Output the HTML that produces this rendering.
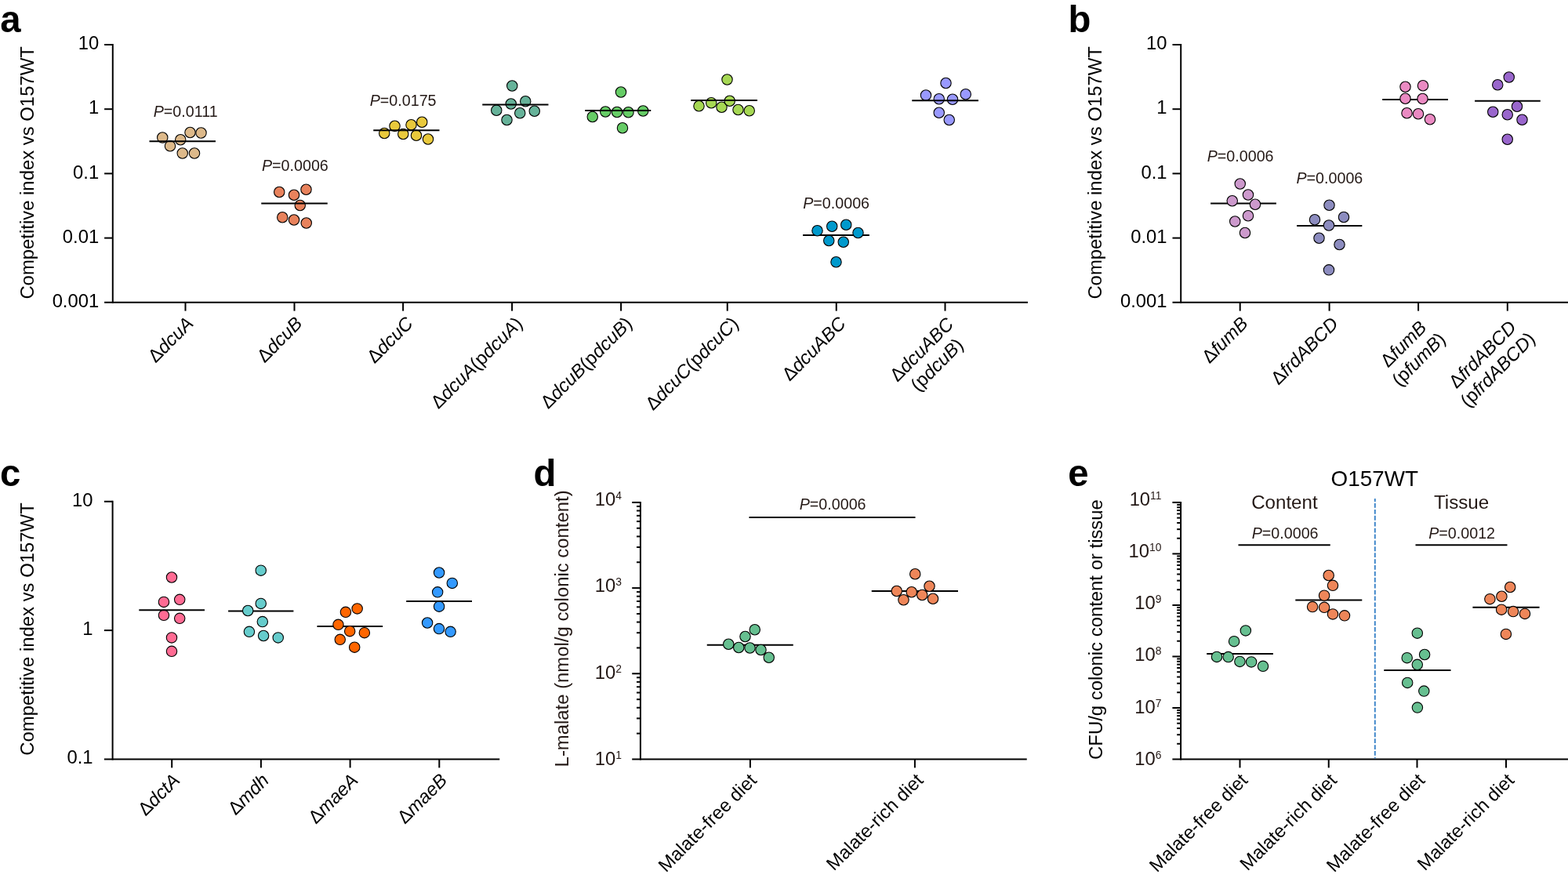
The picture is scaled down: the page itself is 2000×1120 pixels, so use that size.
<!DOCTYPE html>
<html lang="en">
<head>
<meta charset="utf-8">
<title>Competitive index figure</title>
<style>
html,body{margin:0;padding:0;background:#fff;}
body{width:2000px;height:1120px;overflow:hidden;}
svg{display:block;font-family:"Liberation Sans",sans-serif;}
</style>
</head>
<body>
<svg width="2000" height="1120" viewBox="0 0 2000 1120">
<rect x="0" y="0" width="2000" height="1120" fill="#ffffff"/>
<text x="0.2" y="41" font-size="47.3" font-weight="bold" fill="#000">a</text>
<text transform="translate(43,220.4) rotate(-90)" font-size="23.88" text-anchor="middle" fill="#000">Competitive index vs O157WT</text>
<line x1="143.8" y1="56" x2="143.8" y2="386.75" stroke="#000" stroke-width="2"/>
<line x1="133.1" y1="385.75" x2="1311" y2="385.75" stroke="#000" stroke-width="2"/>
<line x1="133.1" y1="57" x2="143.8" y2="57" stroke="#000" stroke-width="2"/>
<line x1="133.1" y1="139.2" x2="143.8" y2="139.2" stroke="#000" stroke-width="2"/>
<line x1="133.1" y1="221.4" x2="143.8" y2="221.4" stroke="#000" stroke-width="2"/>
<line x1="133.1" y1="303.6" x2="143.8" y2="303.6" stroke="#000" stroke-width="2"/>
<line x1="236.5" y1="385.75" x2="236.5" y2="396.65" stroke="#000" stroke-width="2"/>
<line x1="375.5" y1="385.75" x2="375.5" y2="396.65" stroke="#000" stroke-width="2"/>
<line x1="514.1" y1="385.75" x2="514.1" y2="396.65" stroke="#000" stroke-width="2"/>
<line x1="653.1" y1="385.75" x2="653.1" y2="396.65" stroke="#000" stroke-width="2"/>
<line x1="792.1" y1="385.75" x2="792.1" y2="396.65" stroke="#000" stroke-width="2"/>
<line x1="927.75" y1="385.75" x2="927.75" y2="396.65" stroke="#000" stroke-width="2"/>
<line x1="1066.75" y1="385.75" x2="1066.75" y2="396.65" stroke="#000" stroke-width="2"/>
<line x1="1205.5" y1="385.75" x2="1205.5" y2="396.65" stroke="#000" stroke-width="2"/>
<text x="126.2" y="63.2" font-size="23.8" text-anchor="end" fill="#000">10</text>
<text x="126.2" y="145.4" font-size="23.8" text-anchor="end" fill="#000">1</text>
<text x="126.2" y="227.6" font-size="23.8" text-anchor="end" fill="#000">0.1</text>
<text x="126.2" y="309.8" font-size="23.8" text-anchor="end" fill="#000">0.01</text>
<text x="126.2" y="391.95" font-size="23.8" text-anchor="end" fill="#000">0.001</text>
<circle cx="207.25" cy="175.5" r="6.7" fill="#DDB98A" stroke="#000" stroke-width="1.1"/>
<circle cx="217" cy="186.25" r="6.7" fill="#DDB98A" stroke="#000" stroke-width="1.1"/>
<circle cx="230.25" cy="178.25" r="6.7" fill="#DDB98A" stroke="#000" stroke-width="1.1"/>
<circle cx="232.75" cy="195.5" r="6.7" fill="#DDB98A" stroke="#000" stroke-width="1.1"/>
<circle cx="242.5" cy="169" r="6.7" fill="#DDB98A" stroke="#000" stroke-width="1.1"/>
<circle cx="248" cy="195.5" r="6.7" fill="#DDB98A" stroke="#000" stroke-width="1.1"/>
<circle cx="256.5" cy="169.5" r="6.7" fill="#DDB98A" stroke="#000" stroke-width="1.1"/>
<line x1="190.5" y1="180.3" x2="275" y2="180.3" stroke="#000" stroke-width="2"/>
<text x="195.7" y="149.25" font-size="19.7" text-anchor="start" fill="#231815"><tspan font-style="italic">P</tspan>=0.0111</text>
<circle cx="356.25" cy="245" r="6.7" fill="#E8825C" stroke="#000" stroke-width="1.1"/>
<circle cx="375" cy="248.75" r="6.7" fill="#E8825C" stroke="#000" stroke-width="1.1"/>
<circle cx="390.5" cy="241.75" r="6.7" fill="#E8825C" stroke="#000" stroke-width="1.1"/>
<circle cx="382.75" cy="262" r="6.7" fill="#E8825C" stroke="#000" stroke-width="1.1"/>
<circle cx="360.25" cy="277.25" r="6.7" fill="#E8825C" stroke="#000" stroke-width="1.1"/>
<circle cx="375" cy="280.5" r="6.7" fill="#E8825C" stroke="#000" stroke-width="1.1"/>
<circle cx="390.75" cy="284.5" r="6.7" fill="#E8825C" stroke="#000" stroke-width="1.1"/>
<line x1="333.25" y1="259.5" x2="417.75" y2="259.5" stroke="#000" stroke-width="2"/>
<text x="333.95" y="218.25" font-size="19.7" text-anchor="start" fill="#231815"><tspan font-style="italic">P</tspan>=0.0006</text>
<circle cx="490.25" cy="170" r="6.7" fill="#E9C93C" stroke="#000" stroke-width="1.1"/>
<circle cx="503.5" cy="160.75" r="6.7" fill="#E9C93C" stroke="#000" stroke-width="1.1"/>
<circle cx="514.25" cy="171" r="6.7" fill="#E9C93C" stroke="#000" stroke-width="1.1"/>
<circle cx="524.5" cy="159.25" r="6.7" fill="#E9C93C" stroke="#000" stroke-width="1.1"/>
<circle cx="531" cy="172.75" r="6.7" fill="#E9C93C" stroke="#000" stroke-width="1.1"/>
<circle cx="538.25" cy="155.75" r="6.7" fill="#E9C93C" stroke="#000" stroke-width="1.1"/>
<circle cx="546" cy="177.5" r="6.7" fill="#E9C93C" stroke="#000" stroke-width="1.1"/>
<line x1="476.25" y1="166.3" x2="560.5" y2="166.3" stroke="#000" stroke-width="2"/>
<text x="471.7" y="134.5" font-size="19.7" text-anchor="start" fill="#231815"><tspan font-style="italic">P</tspan>=0.0175</text>
<circle cx="653.25" cy="109.5" r="6.7" fill="#66B299" stroke="#000" stroke-width="1.1"/>
<circle cx="651.75" cy="132.5" r="6.7" fill="#66B299" stroke="#000" stroke-width="1.1"/>
<circle cx="670.25" cy="129.25" r="6.7" fill="#66B299" stroke="#000" stroke-width="1.1"/>
<circle cx="633.25" cy="140.75" r="6.7" fill="#66B299" stroke="#000" stroke-width="1.1"/>
<circle cx="663.25" cy="144.25" r="6.7" fill="#66B299" stroke="#000" stroke-width="1.1"/>
<circle cx="681.75" cy="141.75" r="6.7" fill="#66B299" stroke="#000" stroke-width="1.1"/>
<circle cx="646.5" cy="153" r="6.7" fill="#66B299" stroke="#000" stroke-width="1.1"/>
<line x1="615.25" y1="133.5" x2="699.5" y2="133.5" stroke="#000" stroke-width="2"/>
<circle cx="792" cy="117.5" r="6.7" fill="#66CC66" stroke="#000" stroke-width="1.1"/>
<circle cx="755.75" cy="149" r="6.7" fill="#66CC66" stroke="#000" stroke-width="1.1"/>
<circle cx="772.25" cy="142.5" r="6.7" fill="#66CC66" stroke="#000" stroke-width="1.1"/>
<circle cx="787" cy="143" r="6.7" fill="#66CC66" stroke="#000" stroke-width="1.1"/>
<circle cx="801.5" cy="143.25" r="6.7" fill="#66CC66" stroke="#000" stroke-width="1.1"/>
<circle cx="820.25" cy="141.5" r="6.7" fill="#66CC66" stroke="#000" stroke-width="1.1"/>
<circle cx="794" cy="163.25" r="6.7" fill="#66CC66" stroke="#000" stroke-width="1.1"/>
<line x1="746.25" y1="141" x2="830.25" y2="141" stroke="#000" stroke-width="2"/>
<circle cx="927.5" cy="101.5" r="6.7" fill="#A6D854" stroke="#000" stroke-width="1.1"/>
<circle cx="891.5" cy="135.25" r="6.7" fill="#A6D854" stroke="#000" stroke-width="1.1"/>
<circle cx="907.25" cy="131.25" r="6.7" fill="#A6D854" stroke="#000" stroke-width="1.1"/>
<circle cx="920.5" cy="136.75" r="6.7" fill="#A6D854" stroke="#000" stroke-width="1.1"/>
<circle cx="930.75" cy="128.75" r="6.7" fill="#A6D854" stroke="#000" stroke-width="1.1"/>
<circle cx="941.5" cy="140" r="6.7" fill="#A6D854" stroke="#000" stroke-width="1.1"/>
<circle cx="955.75" cy="141.25" r="6.7" fill="#A6D854" stroke="#000" stroke-width="1.1"/>
<line x1="881.25" y1="128" x2="966" y2="128" stroke="#000" stroke-width="2"/>
<line x1="1024.1" y1="299.9" x2="1108.9" y2="299.9" stroke="#000" stroke-width="2"/>
<circle cx="1042.5" cy="294.25" r="6.7" fill="#0099CC" stroke="#000" stroke-width="1.1"/>
<circle cx="1061.25" cy="288.75" r="6.7" fill="#0099CC" stroke="#000" stroke-width="1.1"/>
<circle cx="1079.25" cy="286.75" r="6.7" fill="#0099CC" stroke="#000" stroke-width="1.1"/>
<circle cx="1094.5" cy="297" r="6.7" fill="#0099CC" stroke="#000" stroke-width="1.1"/>
<circle cx="1057.25" cy="307" r="6.7" fill="#0099CC" stroke="#000" stroke-width="1.1"/>
<circle cx="1075.75" cy="308.75" r="6.7" fill="#0099CC" stroke="#000" stroke-width="1.1"/>
<circle cx="1066.5" cy="334.25" r="6.7" fill="#0099CC" stroke="#000" stroke-width="1.1"/>
<text x="1024.2" y="265.5" font-size="19.7" text-anchor="start" fill="#231815"><tspan font-style="italic">P</tspan>=0.0006</text>
<circle cx="1206.5" cy="106" r="6.7" fill="#9999FF" stroke="#000" stroke-width="1.1"/>
<circle cx="1181" cy="121.5" r="6.7" fill="#9999FF" stroke="#000" stroke-width="1.1"/>
<circle cx="1197.75" cy="126.25" r="6.7" fill="#9999FF" stroke="#000" stroke-width="1.1"/>
<circle cx="1215" cy="126.75" r="6.7" fill="#9999FF" stroke="#000" stroke-width="1.1"/>
<circle cx="1231.75" cy="120.25" r="6.7" fill="#9999FF" stroke="#000" stroke-width="1.1"/>
<circle cx="1197.75" cy="143.75" r="6.7" fill="#9999FF" stroke="#000" stroke-width="1.1"/>
<circle cx="1210.75" cy="153" r="6.7" fill="#9999FF" stroke="#000" stroke-width="1.1"/>
<line x1="1163.25" y1="128.3" x2="1248" y2="128.3" stroke="#000" stroke-width="2"/>
<text transform="translate(248,414.05) rotate(-45)" font-size="23.8" text-anchor="end" fill="#000">Δ<tspan font-style="italic">dcuA</tspan></text>
<text transform="translate(387,414.05) rotate(-45)" font-size="23.8" text-anchor="end" fill="#000">Δ<tspan font-style="italic">dcuB</tspan></text>
<text transform="translate(528.2,414.05) rotate(-45)" font-size="23.8" text-anchor="end" fill="#000">Δ<tspan font-style="italic">dcuC</tspan></text>
<text transform="translate(667.8,414.05) rotate(-45)" font-size="23.8" text-anchor="end" fill="#000">Δ<tspan font-style="italic">dcuA</tspan>(p<tspan font-style="italic">dcuA</tspan>)</text>
<text transform="translate(807.7,414.05) rotate(-45)" font-size="23.8" text-anchor="end" fill="#000">Δ<tspan font-style="italic">dcuB</tspan>(p<tspan font-style="italic">dcuB</tspan>)</text>
<text transform="translate(943.35,414.05) rotate(-45)" font-size="23.8" text-anchor="end" fill="#000">Δ<tspan font-style="italic">dcuC</tspan>(p<tspan font-style="italic">dcuC</tspan>)</text>
<text transform="translate(1080.15,414.05) rotate(-45)" font-size="23.8" text-anchor="end" fill="#000">Δ<tspan font-style="italic">dcuABC</tspan></text>
<g transform="translate(1181.2,451.5) rotate(-45)" font-size="23.8" text-anchor="middle" fill="#000">
<text x="0" y="0">Δ<tspan font-style="italic">dcuABC</tspan></text>
<text x="0" y="27.5">(p<tspan font-style="italic">dcuB</tspan>)</text>
</g>
<text x="1362.5" y="41" font-size="47.3" font-weight="bold" fill="#000">b</text>
<text transform="translate(1405,220.4) rotate(-90)" font-size="23.88" text-anchor="middle" fill="#000">Competitive index vs O157WT</text>
<line x1="1506.2" y1="56" x2="1506.2" y2="386.75" stroke="#000" stroke-width="2"/>
<line x1="1495.5" y1="385.75" x2="2000" y2="385.75" stroke="#000" stroke-width="2"/>
<line x1="1495.5" y1="57" x2="1506.2" y2="57" stroke="#000" stroke-width="2"/>
<line x1="1495.5" y1="139.2" x2="1506.2" y2="139.2" stroke="#000" stroke-width="2"/>
<line x1="1495.5" y1="221.4" x2="1506.2" y2="221.4" stroke="#000" stroke-width="2"/>
<line x1="1495.5" y1="303.6" x2="1506.2" y2="303.6" stroke="#000" stroke-width="2"/>
<line x1="1581.7" y1="385.75" x2="1581.7" y2="396.65" stroke="#000" stroke-width="2"/>
<line x1="1695.6" y1="385.75" x2="1695.6" y2="396.65" stroke="#000" stroke-width="2"/>
<line x1="1809.1" y1="385.75" x2="1809.1" y2="396.65" stroke="#000" stroke-width="2"/>
<line x1="1922.8" y1="385.75" x2="1922.8" y2="396.65" stroke="#000" stroke-width="2"/>
<text x="1488.5" y="63.2" font-size="23.8" text-anchor="end" fill="#000">10</text>
<text x="1488.5" y="145.4" font-size="23.8" text-anchor="end" fill="#000">1</text>
<text x="1488.5" y="227.6" font-size="23.8" text-anchor="end" fill="#000">0.1</text>
<text x="1488.5" y="309.8" font-size="23.8" text-anchor="end" fill="#000">0.01</text>
<text x="1488.5" y="391.95" font-size="23.8" text-anchor="end" fill="#000">0.001</text>
<line x1="1544.1" y1="259.6" x2="1627.9" y2="259.6" stroke="#000" stroke-width="2"/>
<circle cx="1581.75" cy="234.5" r="6.7" fill="#CC99CC" stroke="#000" stroke-width="1.1"/>
<circle cx="1592" cy="248.5" r="6.7" fill="#CC99CC" stroke="#000" stroke-width="1.1"/>
<circle cx="1571.75" cy="256.25" r="6.7" fill="#CC99CC" stroke="#000" stroke-width="1.1"/>
<circle cx="1601" cy="260.75" r="6.7" fill="#CC99CC" stroke="#000" stroke-width="1.1"/>
<circle cx="1592" cy="275.25" r="6.7" fill="#CC99CC" stroke="#000" stroke-width="1.1"/>
<circle cx="1575.25" cy="282.5" r="6.7" fill="#CC99CC" stroke="#000" stroke-width="1.1"/>
<circle cx="1588" cy="297" r="6.7" fill="#CC99CC" stroke="#000" stroke-width="1.1"/>
<text x="1539.7" y="206.25" font-size="19.7" text-anchor="start" fill="#231815"><tspan font-style="italic">P</tspan>=0.0006</text>
<line x1="1654.1" y1="288" x2="1737.35" y2="288" stroke="#000" stroke-width="2"/>
<circle cx="1695.5" cy="261.75" r="6.7" fill="#8C8CBF" stroke="#000" stroke-width="1.1"/>
<circle cx="1677" cy="280.25" r="6.7" fill="#8C8CBF" stroke="#000" stroke-width="1.1"/>
<circle cx="1714" cy="277" r="6.7" fill="#8C8CBF" stroke="#000" stroke-width="1.1"/>
<circle cx="1695" cy="287.5" r="6.7" fill="#8C8CBF" stroke="#000" stroke-width="1.1"/>
<circle cx="1682.5" cy="303.75" r="6.7" fill="#8C8CBF" stroke="#000" stroke-width="1.1"/>
<circle cx="1708.5" cy="312" r="6.7" fill="#8C8CBF" stroke="#000" stroke-width="1.1"/>
<circle cx="1695" cy="344.3" r="6.7" fill="#8C8CBF" stroke="#000" stroke-width="1.1"/>
<text x="1653.45" y="233.75" font-size="19.7" text-anchor="start" fill="#231815"><tspan font-style="italic">P</tspan>=0.0006</text>
<line x1="1763.2" y1="126.9" x2="1847" y2="126.9" stroke="#000" stroke-width="2"/>
<circle cx="1792.5" cy="110.75" r="6.7" fill="#EA8AC2" stroke="#000" stroke-width="1.1"/>
<circle cx="1815" cy="109.25" r="6.7" fill="#EA8AC2" stroke="#000" stroke-width="1.1"/>
<circle cx="1792.5" cy="125.75" r="6.7" fill="#EA8AC2" stroke="#000" stroke-width="1.1"/>
<circle cx="1814.5" cy="126" r="6.7" fill="#EA8AC2" stroke="#000" stroke-width="1.1"/>
<circle cx="1794.5" cy="144.25" r="6.7" fill="#EA8AC2" stroke="#000" stroke-width="1.1"/>
<circle cx="1809" cy="145.25" r="6.7" fill="#EA8AC2" stroke="#000" stroke-width="1.1"/>
<circle cx="1824" cy="152.25" r="6.7" fill="#EA8AC2" stroke="#000" stroke-width="1.1"/>
<line x1="1881.1" y1="128.85" x2="1964.8" y2="128.85" stroke="#000" stroke-width="2"/>
<circle cx="1924.75" cy="98.5" r="6.7" fill="#9966CC" stroke="#000" stroke-width="1.1"/>
<circle cx="1910.25" cy="108.25" r="6.7" fill="#9966CC" stroke="#000" stroke-width="1.1"/>
<circle cx="1935" cy="135.75" r="6.7" fill="#9966CC" stroke="#000" stroke-width="1.1"/>
<circle cx="1904.25" cy="142.75" r="6.7" fill="#9966CC" stroke="#000" stroke-width="1.1"/>
<circle cx="1922.75" cy="146.25" r="6.7" fill="#9966CC" stroke="#000" stroke-width="1.1"/>
<circle cx="1941.5" cy="152.75" r="6.7" fill="#9966CC" stroke="#000" stroke-width="1.1"/>
<circle cx="1922.75" cy="177.75" r="6.7" fill="#9966CC" stroke="#000" stroke-width="1.1"/>
<text transform="translate(1593.2,414.05) rotate(-45)" font-size="23.8" text-anchor="end" fill="#000">Δ<tspan font-style="italic">fumB</tspan></text>
<text transform="translate(1708.4,414.35) rotate(-45)" font-size="23.8" text-anchor="end" fill="#000">Δ<tspan font-style="italic">frdABCD</tspan></text>
<g transform="translate(1795.75,444.5) rotate(-45)" font-size="23.8" text-anchor="middle" fill="#000">
<text x="0" y="0">Δ<tspan font-style="italic">fumB</tspan></text>
<text x="0" y="27.5">(p<tspan font-style="italic">fumB</tspan>)</text>
</g>
<g transform="translate(1896.5,457.75) rotate(-45)" font-size="23.8" text-anchor="middle" fill="#000">
<text x="0" y="0">Δ<tspan font-style="italic">frdABCD</tspan></text>
<text x="0" y="27.5">(p<tspan font-style="italic">frdABCD</tspan>)</text>
</g>
<text x="0" y="619.85" font-size="47.3" font-weight="bold" fill="#000">c</text>
<text transform="translate(43,802.5) rotate(-90)" font-size="23.88" text-anchor="middle" fill="#000">Competitive index vs O157WT</text>
<line x1="143.6" y1="638.75" x2="143.6" y2="969.5" stroke="#000" stroke-width="2"/>
<line x1="132.9" y1="968.5" x2="637.25" y2="968.5" stroke="#000" stroke-width="2"/>
<line x1="132.9" y1="639.75" x2="143.6" y2="639.75" stroke="#000" stroke-width="2"/>
<line x1="132.9" y1="804.1" x2="143.6" y2="804.1" stroke="#000" stroke-width="2"/>
<line x1="219.2" y1="968.5" x2="219.2" y2="979.4" stroke="#000" stroke-width="2"/>
<line x1="332.9" y1="968.5" x2="332.9" y2="979.4" stroke="#000" stroke-width="2"/>
<line x1="446.6" y1="968.5" x2="446.6" y2="979.4" stroke="#000" stroke-width="2"/>
<line x1="560.3" y1="968.5" x2="560.3" y2="979.4" stroke="#000" stroke-width="2"/>
<text x="118.5" y="645.95" font-size="23.8" text-anchor="end" fill="#000">10</text>
<text x="118.5" y="810.2" font-size="23.8" text-anchor="end" fill="#000">1</text>
<text x="118.5" y="974.45" font-size="23.8" text-anchor="end" fill="#000">0.1</text>
<circle cx="219" cy="736.5" r="6.7" fill="#FF6B93" stroke="#000" stroke-width="1.1"/>
<circle cx="208.95" cy="767.9" r="6.7" fill="#FF6B93" stroke="#000" stroke-width="1.1"/>
<circle cx="229.2" cy="764.8" r="6.7" fill="#FF6B93" stroke="#000" stroke-width="1.1"/>
<circle cx="208.95" cy="784.8" r="6.7" fill="#FF6B93" stroke="#000" stroke-width="1.1"/>
<circle cx="229.2" cy="788.8" r="6.7" fill="#FF6B93" stroke="#000" stroke-width="1.1"/>
<circle cx="219" cy="813.4" r="6.7" fill="#FF6B93" stroke="#000" stroke-width="1.1"/>
<circle cx="219" cy="830.8" r="6.7" fill="#FF6B93" stroke="#000" stroke-width="1.1"/>
<line x1="177.3" y1="778.2" x2="261" y2="778.2" stroke="#000" stroke-width="2"/>
<line x1="291.1" y1="779.4" x2="374.4" y2="779.4" stroke="#000" stroke-width="2"/>
<circle cx="332.75" cy="727.7" r="6.7" fill="#66CCCC" stroke="#000" stroke-width="1.1"/>
<circle cx="332.75" cy="769.9" r="6.7" fill="#66CCCC" stroke="#000" stroke-width="1.1"/>
<circle cx="316.2" cy="779" r="6.7" fill="#66CCCC" stroke="#000" stroke-width="1.1"/>
<circle cx="334.8" cy="793.1" r="6.7" fill="#66CCCC" stroke="#000" stroke-width="1.1"/>
<circle cx="317.9" cy="805.8" r="6.7" fill="#66CCCC" stroke="#000" stroke-width="1.1"/>
<circle cx="336.1" cy="811" r="6.7" fill="#66CCCC" stroke="#000" stroke-width="1.1"/>
<circle cx="354.75" cy="813.4" r="6.7" fill="#66CCCC" stroke="#000" stroke-width="1.1"/>
<line x1="404.5" y1="799.1" x2="488.1" y2="799.1" stroke="#000" stroke-width="2"/>
<circle cx="440.9" cy="780.8" r="6.7" fill="#FF6600" stroke="#000" stroke-width="1.1"/>
<circle cx="455.65" cy="776.4" r="6.7" fill="#FF6600" stroke="#000" stroke-width="1.1"/>
<circle cx="431.45" cy="796.8" r="6.7" fill="#FF6600" stroke="#000" stroke-width="1.1"/>
<circle cx="446.2" cy="805.2" r="6.7" fill="#FF6600" stroke="#000" stroke-width="1.1"/>
<circle cx="464.85" cy="807.2" r="6.7" fill="#FF6600" stroke="#000" stroke-width="1.1"/>
<circle cx="433.75" cy="815.8" r="6.7" fill="#FF6600" stroke="#000" stroke-width="1.1"/>
<circle cx="452.2" cy="825.7" r="6.7" fill="#FF6600" stroke="#000" stroke-width="1.1"/>
<circle cx="560.1" cy="730.5" r="6.7" fill="#3399FF" stroke="#000" stroke-width="1.1"/>
<circle cx="576.8" cy="743.95" r="6.7" fill="#3399FF" stroke="#000" stroke-width="1.1"/>
<circle cx="558.15" cy="755.35" r="6.7" fill="#3399FF" stroke="#000" stroke-width="1.1"/>
<circle cx="560.1" cy="773.7" r="6.7" fill="#3399FF" stroke="#000" stroke-width="1.1"/>
<circle cx="545.1" cy="794.5" r="6.7" fill="#3399FF" stroke="#000" stroke-width="1.1"/>
<circle cx="560" cy="802.1" r="6.7" fill="#3399FF" stroke="#000" stroke-width="1.1"/>
<circle cx="574.6" cy="805.8" r="6.7" fill="#3399FF" stroke="#000" stroke-width="1.1"/>
<line x1="518.2" y1="767" x2="602" y2="767" stroke="#000" stroke-width="2"/>
<text transform="translate(230.7,996.8) rotate(-45)" font-size="23.8" text-anchor="end" fill="#000">Δ<tspan font-style="italic">dctA</tspan></text>
<text transform="translate(344.4,996.8) rotate(-45)" font-size="23.8" text-anchor="end" fill="#000">Δ<tspan font-style="italic">mdh</tspan></text>
<text transform="translate(458.1,996.8) rotate(-45)" font-size="23.8" text-anchor="end" fill="#000">Δ<tspan font-style="italic">maeA</tspan></text>
<text transform="translate(571.8,996.8) rotate(-45)" font-size="23.8" text-anchor="end" fill="#000">Δ<tspan font-style="italic">maeB</tspan></text>
<text x="680.6" y="619.8" font-size="47.3" font-weight="bold" fill="#000">d</text>
<text transform="translate(725,801.9) rotate(-90)" font-size="23.88" text-anchor="middle" fill="#231815">L-malate (nmol/g colonic content)</text>
<line x1="816.9" y1="639.9" x2="816.9" y2="969.5" stroke="#000" stroke-width="2"/>
<line x1="806.2" y1="968.5" x2="1309.75" y2="968.5" stroke="#000" stroke-width="2"/>
<line x1="806.2" y1="640.9" x2="816.9" y2="640.9" stroke="#000" stroke-width="2"/>
<line x1="806.2" y1="750.1" x2="816.9" y2="750.1" stroke="#000" stroke-width="2"/>
<line x1="806.2" y1="859.3" x2="816.9" y2="859.3" stroke="#000" stroke-width="2"/>
<line x1="812" y1="717.228" x2="816.9" y2="717.228" stroke="#000" stroke-width="2"/>
<line x1="812" y1="697.998" x2="816.9" y2="697.998" stroke="#000" stroke-width="2"/>
<line x1="812" y1="684.355" x2="816.9" y2="684.355" stroke="#000" stroke-width="2"/>
<line x1="812" y1="673.772" x2="816.9" y2="673.772" stroke="#000" stroke-width="2"/>
<line x1="812" y1="665.126" x2="816.9" y2="665.126" stroke="#000" stroke-width="2"/>
<line x1="812" y1="657.815" x2="816.9" y2="657.815" stroke="#000" stroke-width="2"/>
<line x1="812" y1="651.483" x2="816.9" y2="651.483" stroke="#000" stroke-width="2"/>
<line x1="812" y1="645.897" x2="816.9" y2="645.897" stroke="#000" stroke-width="2"/>
<line x1="812" y1="826.428" x2="816.9" y2="826.428" stroke="#000" stroke-width="2"/>
<line x1="812" y1="807.198" x2="816.9" y2="807.198" stroke="#000" stroke-width="2"/>
<line x1="812" y1="793.555" x2="816.9" y2="793.555" stroke="#000" stroke-width="2"/>
<line x1="812" y1="782.972" x2="816.9" y2="782.972" stroke="#000" stroke-width="2"/>
<line x1="812" y1="774.326" x2="816.9" y2="774.326" stroke="#000" stroke-width="2"/>
<line x1="812" y1="767.015" x2="816.9" y2="767.015" stroke="#000" stroke-width="2"/>
<line x1="812" y1="760.683" x2="816.9" y2="760.683" stroke="#000" stroke-width="2"/>
<line x1="812" y1="755.097" x2="816.9" y2="755.097" stroke="#000" stroke-width="2"/>
<line x1="812" y1="935.628" x2="816.9" y2="935.628" stroke="#000" stroke-width="2"/>
<line x1="812" y1="916.398" x2="816.9" y2="916.398" stroke="#000" stroke-width="2"/>
<line x1="812" y1="902.755" x2="816.9" y2="902.755" stroke="#000" stroke-width="2"/>
<line x1="812" y1="892.172" x2="816.9" y2="892.172" stroke="#000" stroke-width="2"/>
<line x1="812" y1="883.526" x2="816.9" y2="883.526" stroke="#000" stroke-width="2"/>
<line x1="812" y1="876.215" x2="816.9" y2="876.215" stroke="#000" stroke-width="2"/>
<line x1="812" y1="869.883" x2="816.9" y2="869.883" stroke="#000" stroke-width="2"/>
<line x1="812" y1="864.297" x2="816.9" y2="864.297" stroke="#000" stroke-width="2"/>
<line x1="956.9" y1="968.5" x2="956.9" y2="979.4" stroke="#000" stroke-width="2"/>
<line x1="1166.9" y1="968.5" x2="1166.9" y2="979.4" stroke="#000" stroke-width="2"/>
<text x="793" y="644.75" font-size="23.8" text-anchor="end" fill="#231815">10<tspan font-size="13.8754" dy="-7.9254">4</tspan></text>
<text x="793" y="755.17" font-size="23.8" text-anchor="end" fill="#231815">10<tspan font-size="13.8754" dy="-7.9254">3</tspan></text>
<text x="793" y="865.58" font-size="23.8" text-anchor="end" fill="#231815">10<tspan font-size="13.8754" dy="-7.9254">2</tspan></text>
<text x="793" y="976" font-size="23.8" text-anchor="end" fill="#231815">10<tspan font-size="13.8754" dy="-7.9254">1</tspan></text>
<line x1="901.75" y1="822.8" x2="1011.75" y2="822.8" stroke="#000" stroke-width="2"/>
<circle cx="929.25" cy="821.75" r="6.7" fill="#66BF90" stroke="#000" stroke-width="1.1"/>
<circle cx="942.25" cy="826" r="6.7" fill="#66BF90" stroke="#000" stroke-width="1.1"/>
<circle cx="950.5" cy="812" r="6.7" fill="#66BF90" stroke="#000" stroke-width="1.1"/>
<circle cx="956.5" cy="826.5" r="6.7" fill="#66BF90" stroke="#000" stroke-width="1.1"/>
<circle cx="962.75" cy="803.25" r="6.7" fill="#66BF90" stroke="#000" stroke-width="1.1"/>
<circle cx="970.5" cy="829" r="6.7" fill="#66BF90" stroke="#000" stroke-width="1.1"/>
<circle cx="980.75" cy="838.75" r="6.7" fill="#66BF90" stroke="#000" stroke-width="1.1"/>
<line x1="1111.75" y1="754" x2="1222" y2="754" stroke="#000" stroke-width="2"/>
<circle cx="1167.25" cy="732.25" r="6.7" fill="#EE8659" stroke="#000" stroke-width="1.1"/>
<circle cx="1143.75" cy="754" r="6.7" fill="#EE8659" stroke="#000" stroke-width="1.1"/>
<circle cx="1162.75" cy="755.25" r="6.7" fill="#EE8659" stroke="#000" stroke-width="1.1"/>
<circle cx="1185.5" cy="747.75" r="6.7" fill="#EE8659" stroke="#000" stroke-width="1.1"/>
<circle cx="1152.5" cy="765.25" r="6.7" fill="#EE8659" stroke="#000" stroke-width="1.1"/>
<circle cx="1176.25" cy="759" r="6.7" fill="#EE8659" stroke="#000" stroke-width="1.1"/>
<circle cx="1190" cy="763.75" r="6.7" fill="#EE8659" stroke="#000" stroke-width="1.1"/>
<line x1="955.5" y1="660" x2="1167.5" y2="660" stroke="#000" stroke-width="2"/>
<text x="1019.7" y="650.4" font-size="19.7" text-anchor="start" fill="#231815"><tspan font-style="italic">P</tspan>=0.0006</text>
<text transform="translate(966.4,996.8) rotate(-45)" font-size="23.8" text-anchor="end" fill="#000">Malate-free diet</text>
<text transform="translate(1178.9,996.8) rotate(-45)" font-size="23.8" text-anchor="end" fill="#000">Malate-rich diet</text>
<text x="1362.2" y="619.9" font-size="47.3" font-weight="bold" fill="#000">e</text>
<text transform="translate(1405.7,803) rotate(-90)" font-size="23.88" text-anchor="middle" fill="#000">CFU/g colonic content or tissue</text>
<line x1="1506.1" y1="639.9" x2="1506.1" y2="969.5" stroke="#000" stroke-width="2"/>
<line x1="1495.4" y1="968.5" x2="2000" y2="968.5" stroke="#000" stroke-width="2"/>
<line x1="1495.4" y1="640.9" x2="1506.1" y2="640.9" stroke="#000" stroke-width="2"/>
<line x1="1495.4" y1="706.42" x2="1506.1" y2="706.42" stroke="#000" stroke-width="2"/>
<line x1="1495.4" y1="771.94" x2="1506.1" y2="771.94" stroke="#000" stroke-width="2"/>
<line x1="1495.4" y1="837.46" x2="1506.1" y2="837.46" stroke="#000" stroke-width="2"/>
<line x1="1495.4" y1="902.98" x2="1506.1" y2="902.98" stroke="#000" stroke-width="2"/>
<line x1="1501.2" y1="686.697" x2="1506.1" y2="686.697" stroke="#000" stroke-width="2"/>
<line x1="1501.2" y1="675.159" x2="1506.1" y2="675.159" stroke="#000" stroke-width="2"/>
<line x1="1501.2" y1="666.973" x2="1506.1" y2="666.973" stroke="#000" stroke-width="2"/>
<line x1="1501.2" y1="660.623" x2="1506.1" y2="660.623" stroke="#000" stroke-width="2"/>
<line x1="1501.2" y1="655.436" x2="1506.1" y2="655.436" stroke="#000" stroke-width="2"/>
<line x1="1501.2" y1="651.049" x2="1506.1" y2="651.049" stroke="#000" stroke-width="2"/>
<line x1="1501.2" y1="647.25" x2="1506.1" y2="647.25" stroke="#000" stroke-width="2"/>
<line x1="1501.2" y1="643.898" x2="1506.1" y2="643.898" stroke="#000" stroke-width="2"/>
<line x1="1501.2" y1="752.217" x2="1506.1" y2="752.217" stroke="#000" stroke-width="2"/>
<line x1="1501.2" y1="740.679" x2="1506.1" y2="740.679" stroke="#000" stroke-width="2"/>
<line x1="1501.2" y1="732.493" x2="1506.1" y2="732.493" stroke="#000" stroke-width="2"/>
<line x1="1501.2" y1="726.143" x2="1506.1" y2="726.143" stroke="#000" stroke-width="2"/>
<line x1="1501.2" y1="720.956" x2="1506.1" y2="720.956" stroke="#000" stroke-width="2"/>
<line x1="1501.2" y1="716.569" x2="1506.1" y2="716.569" stroke="#000" stroke-width="2"/>
<line x1="1501.2" y1="712.77" x2="1506.1" y2="712.77" stroke="#000" stroke-width="2"/>
<line x1="1501.2" y1="709.418" x2="1506.1" y2="709.418" stroke="#000" stroke-width="2"/>
<line x1="1501.2" y1="817.737" x2="1506.1" y2="817.737" stroke="#000" stroke-width="2"/>
<line x1="1501.2" y1="806.199" x2="1506.1" y2="806.199" stroke="#000" stroke-width="2"/>
<line x1="1501.2" y1="798.013" x2="1506.1" y2="798.013" stroke="#000" stroke-width="2"/>
<line x1="1501.2" y1="791.663" x2="1506.1" y2="791.663" stroke="#000" stroke-width="2"/>
<line x1="1501.2" y1="786.476" x2="1506.1" y2="786.476" stroke="#000" stroke-width="2"/>
<line x1="1501.2" y1="782.089" x2="1506.1" y2="782.089" stroke="#000" stroke-width="2"/>
<line x1="1501.2" y1="778.29" x2="1506.1" y2="778.29" stroke="#000" stroke-width="2"/>
<line x1="1501.2" y1="774.938" x2="1506.1" y2="774.938" stroke="#000" stroke-width="2"/>
<line x1="1501.2" y1="883.257" x2="1506.1" y2="883.257" stroke="#000" stroke-width="2"/>
<line x1="1501.2" y1="871.719" x2="1506.1" y2="871.719" stroke="#000" stroke-width="2"/>
<line x1="1501.2" y1="863.533" x2="1506.1" y2="863.533" stroke="#000" stroke-width="2"/>
<line x1="1501.2" y1="857.183" x2="1506.1" y2="857.183" stroke="#000" stroke-width="2"/>
<line x1="1501.2" y1="851.996" x2="1506.1" y2="851.996" stroke="#000" stroke-width="2"/>
<line x1="1501.2" y1="847.609" x2="1506.1" y2="847.609" stroke="#000" stroke-width="2"/>
<line x1="1501.2" y1="843.81" x2="1506.1" y2="843.81" stroke="#000" stroke-width="2"/>
<line x1="1501.2" y1="840.458" x2="1506.1" y2="840.458" stroke="#000" stroke-width="2"/>
<line x1="1501.2" y1="948.777" x2="1506.1" y2="948.777" stroke="#000" stroke-width="2"/>
<line x1="1501.2" y1="937.239" x2="1506.1" y2="937.239" stroke="#000" stroke-width="2"/>
<line x1="1501.2" y1="929.053" x2="1506.1" y2="929.053" stroke="#000" stroke-width="2"/>
<line x1="1501.2" y1="922.703" x2="1506.1" y2="922.703" stroke="#000" stroke-width="2"/>
<line x1="1501.2" y1="917.516" x2="1506.1" y2="917.516" stroke="#000" stroke-width="2"/>
<line x1="1501.2" y1="913.129" x2="1506.1" y2="913.129" stroke="#000" stroke-width="2"/>
<line x1="1501.2" y1="909.33" x2="1506.1" y2="909.33" stroke="#000" stroke-width="2"/>
<line x1="1501.2" y1="905.978" x2="1506.1" y2="905.978" stroke="#000" stroke-width="2"/>
<line x1="1581.5" y1="968.5" x2="1581.5" y2="979.4" stroke="#000" stroke-width="2"/>
<line x1="1694.75" y1="968.5" x2="1694.75" y2="979.4" stroke="#000" stroke-width="2"/>
<line x1="1807.5" y1="968.5" x2="1807.5" y2="979.4" stroke="#000" stroke-width="2"/>
<line x1="1921" y1="968.5" x2="1921" y2="979.4" stroke="#000" stroke-width="2"/>
<text x="1481.5" y="644.75" font-size="23.8" text-anchor="end" fill="#231815">10<tspan font-size="13.8754" dy="-7.9254">11</tspan></text>
<text x="1481.5" y="710.95" font-size="23.8" text-anchor="end" fill="#231815">10<tspan font-size="13.8754" dy="-7.9254">10</tspan></text>
<text x="1481.5" y="777.15" font-size="23.8" text-anchor="end" fill="#231815">10<tspan font-size="13.8754" dy="-7.9254">9</tspan></text>
<text x="1481.5" y="843.35" font-size="23.8" text-anchor="end" fill="#231815">10<tspan font-size="13.8754" dy="-7.9254">8</tspan></text>
<text x="1481.5" y="909.55" font-size="23.8" text-anchor="end" fill="#231815">10<tspan font-size="13.8754" dy="-7.9254">7</tspan></text>
<text x="1481.5" y="975.75" font-size="23.8" text-anchor="end" fill="#231815">10<tspan font-size="13.8754" dy="-7.9254">6</tspan></text>
<text x="1753.3" y="619.9" font-size="27.85" text-anchor="middle" fill="#000">O157WT</text>
<text x="1638.4" y="648.5" font-size="24.1" text-anchor="middle" fill="#231815">Content</text>
<text x="1864.1" y="648.5" font-size="24.2" text-anchor="middle" fill="#231815">Tissue</text>
<line x1="1753.8" y1="636.1" x2="1753.8" y2="967.5" stroke="#4288CA" stroke-width="2" stroke-dasharray="5.8 2.1" stroke-dashoffset="1.95"/>
<line x1="1539.2" y1="834.1" x2="1623.9" y2="834.1" stroke="#000" stroke-width="2"/>
<circle cx="1588.85" cy="804.4" r="6.7" fill="#66BF90" stroke="#000" stroke-width="1.1"/>
<circle cx="1574.1" cy="818.2" r="6.7" fill="#66BF90" stroke="#000" stroke-width="1.1"/>
<circle cx="1552" cy="837.9" r="6.7" fill="#66BF90" stroke="#000" stroke-width="1.1"/>
<circle cx="1566.7" cy="838.1" r="6.7" fill="#66BF90" stroke="#000" stroke-width="1.1"/>
<circle cx="1581.4" cy="843.9" r="6.7" fill="#66BF90" stroke="#000" stroke-width="1.1"/>
<circle cx="1596.1" cy="844.4" r="6.7" fill="#66BF90" stroke="#000" stroke-width="1.1"/>
<circle cx="1611" cy="849.8" r="6.7" fill="#66BF90" stroke="#000" stroke-width="1.1"/>
<line x1="1652.3" y1="765.5" x2="1737.3" y2="765.5" stroke="#000" stroke-width="2"/>
<circle cx="1694.7" cy="734" r="6.7" fill="#EE8659" stroke="#000" stroke-width="1.1"/>
<circle cx="1700" cy="746.8" r="6.7" fill="#EE8659" stroke="#000" stroke-width="1.1"/>
<circle cx="1689.1" cy="759.7" r="6.7" fill="#EE8659" stroke="#000" stroke-width="1.1"/>
<circle cx="1674.1" cy="774.1" r="6.7" fill="#EE8659" stroke="#000" stroke-width="1.1"/>
<circle cx="1689.1" cy="774.85" r="6.7" fill="#EE8659" stroke="#000" stroke-width="1.1"/>
<circle cx="1700" cy="783.4" r="6.7" fill="#EE8659" stroke="#000" stroke-width="1.1"/>
<circle cx="1715" cy="785.3" r="6.7" fill="#EE8659" stroke="#000" stroke-width="1.1"/>
<line x1="1765.3" y1="854.9" x2="1850.5" y2="854.9" stroke="#000" stroke-width="2"/>
<circle cx="1807.8" cy="807.7" r="6.7" fill="#66BF90" stroke="#000" stroke-width="1.1"/>
<circle cx="1794.7" cy="839.2" r="6.7" fill="#66BF90" stroke="#000" stroke-width="1.1"/>
<circle cx="1817.1" cy="835" r="6.7" fill="#66BF90" stroke="#000" stroke-width="1.1"/>
<circle cx="1807.8" cy="847.8" r="6.7" fill="#66BF90" stroke="#000" stroke-width="1.1"/>
<circle cx="1795.2" cy="870.9" r="6.7" fill="#66BF90" stroke="#000" stroke-width="1.1"/>
<circle cx="1816.3" cy="881.6" r="6.7" fill="#66BF90" stroke="#000" stroke-width="1.1"/>
<circle cx="1807.9" cy="902.6" r="6.7" fill="#66BF90" stroke="#000" stroke-width="1.1"/>
<line x1="1878.4" y1="774.7" x2="1963.6" y2="774.7" stroke="#000" stroke-width="2"/>
<circle cx="1926.2" cy="749" r="6.7" fill="#EE8659" stroke="#000" stroke-width="1.1"/>
<circle cx="1900.4" cy="764.2" r="6.7" fill="#EE8659" stroke="#000" stroke-width="1.1"/>
<circle cx="1915.4" cy="760.75" r="6.7" fill="#EE8659" stroke="#000" stroke-width="1.1"/>
<circle cx="1915.15" cy="777.7" r="6.7" fill="#EE8659" stroke="#000" stroke-width="1.1"/>
<circle cx="1930.1" cy="780.1" r="6.7" fill="#EE8659" stroke="#000" stroke-width="1.1"/>
<circle cx="1945" cy="782.9" r="6.7" fill="#EE8659" stroke="#000" stroke-width="1.1"/>
<circle cx="1920.9" cy="808.9" r="6.7" fill="#EE8659" stroke="#000" stroke-width="1.1"/>
<line x1="1579.5" y1="695.25" x2="1696.75" y2="695.25" stroke="#000" stroke-width="2"/>
<line x1="1805.5" y1="695.25" x2="1922.5" y2="695.25" stroke="#000" stroke-width="2"/>
<text x="1596.7" y="687" font-size="19.7" text-anchor="start" fill="#231815"><tspan font-style="italic">P</tspan>=0.0006</text>
<text x="1822.2" y="687" font-size="19.7" text-anchor="start" fill="#231815"><tspan font-style="italic">P</tspan>=0.0012</text>
<text transform="translate(1592.65,996.8) rotate(-45)" font-size="23.8" text-anchor="end" fill="#000">Malate-free diet</text>
<text transform="translate(1706.4,996.8) rotate(-45)" font-size="23.8" text-anchor="end" fill="#000">Malate-rich diet</text>
<text transform="translate(1818.65,996.8) rotate(-45)" font-size="23.8" text-anchor="end" fill="#000">Malate-free diet</text>
<text transform="translate(1932.65,996.8) rotate(-45)" font-size="23.8" text-anchor="end" fill="#000">Malate-rich diet</text>
</svg>
</body>
</html>
